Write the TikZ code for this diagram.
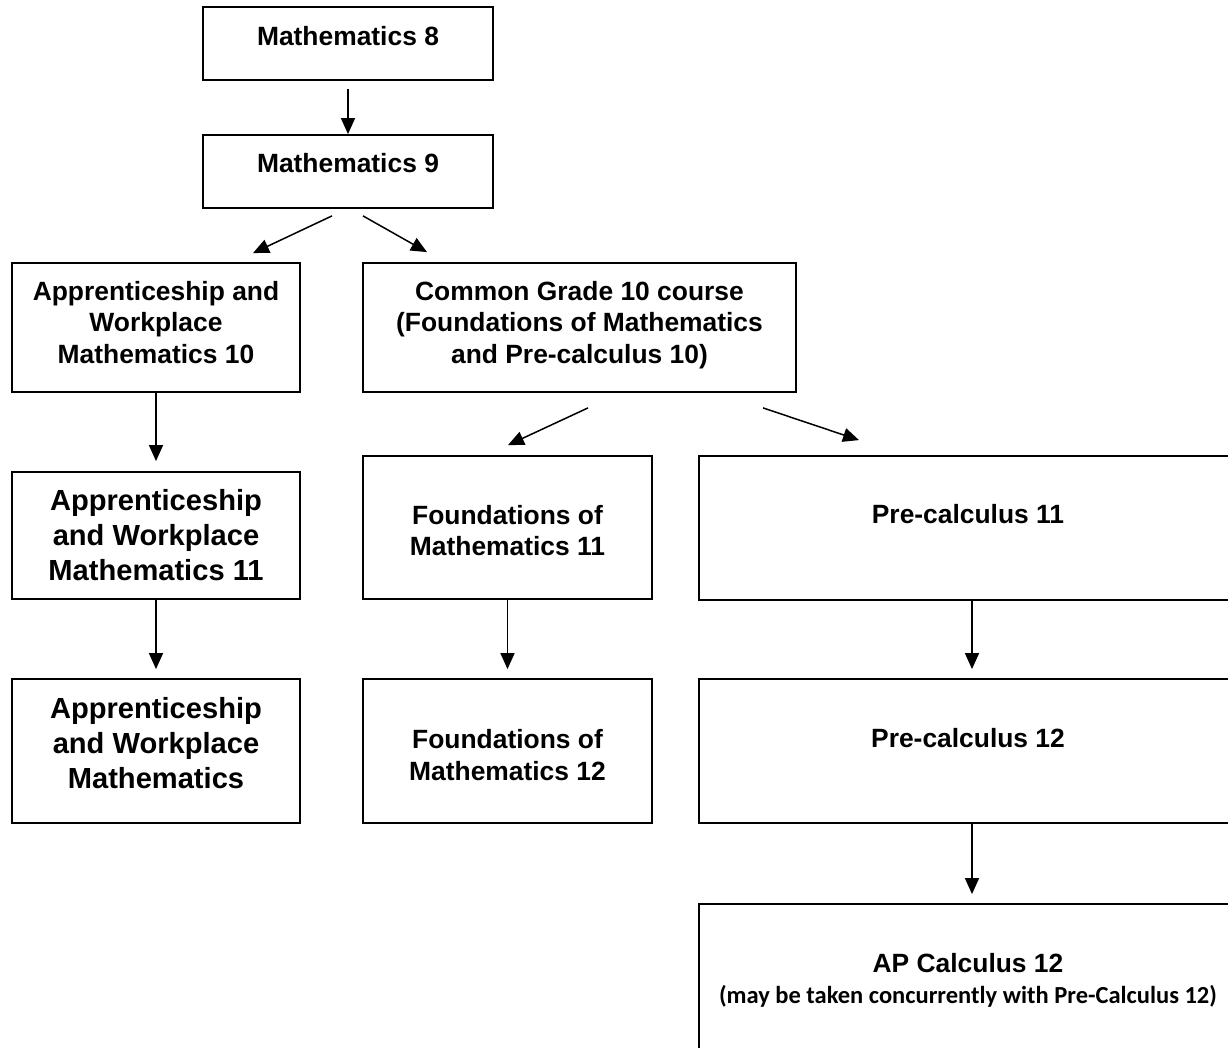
\documentclass[tikz,border=0pt]{standalone}
\usepackage{fontspec}
\setmainfont{Liberation Sans}
\newfontfamily\notefont{Carlito}
\usetikzlibrary{arrows.meta}
\tikzset{
  course/.style={
    draw, line width=1.8pt, inner sep=0pt, align=center,
    font=\bfseries\fontsize{26.4}{31.5}\selectfont,
    text height=0pt, text depth=0pt
  },
  bigcourse/.style={course, font=\bfseries\fontsize{29.1}{35}\selectfont},
  link/.style={-{Triangle[length=16pt,width=14pt]}, line width=1.5pt}
}

\begin{document}
\begin{tikzpicture}[x=1pt, y=-1pt]
    \useasboundingbox (0,0) rectangle (1228,1047);

    % Grade 8 and 9
    \node[course, minimum width=290, minimum height=73, text height=3pt] (m8) at (348,43.5) {Mathematics 8};
    \node[course, minimum width=290, minimum height=73, text height=1pt] (m9) at (348,171.5) {Mathematics 9};

    % Grade 10
    \node[course, minimum width=288, minimum height=129, text height=71pt] (aw10) at (156,327.5) {Apprenticeship and\\Workplace\\Mathematics 10};
    \node[course, minimum width=433, minimum height=129, text height=71pt] (common) at (579.5,327.5) {Common Grade 10 course\\(Foundations of Mathematics\\and Pre-calculus 10)};

    % Grade 11
    \node[bigcourse, minimum width=288, minimum height=127, text height=89pt] (aw11) at (156,535.5) {Apprenticeship\\and Workplace\\Mathematics 11};
    \node[course, minimum width=289, minimum height=143, text height=56pt] (f11) at (507.5,527.5) {Foundations of\\Mathematics 11};
    \node[course, minimum width=538, minimum height=144, text depth=10pt] (pc11) at (968,528) {Pre-calculus 11};

    % Grade 12
    \node[bigcourse, minimum width=288, minimum height=144, text height=74pt] (aw12) at (156,751) {Apprenticeship\\and Workplace\\Mathematics};
    \node[course, minimum width=289, minimum height=144, text height=58pt] (f12) at (507.5,751) {Foundations of\\Mathematics 12};
    \node[course, minimum width=538, minimum height=144, text depth=7pt] (pc12) at (968,751) {Pre-calculus 12};
    \node[course, minimum width=538, minimum height=158, text height=41pt] (ap) at (968,983) {AP Calculus 12\\{\notefont\bfseries\fontsize{24.5}{31}\selectfont (may be taken concurrently with Pre-Calculus 12)}};

    % Arrows
    \draw[link] ([yshift=-8pt]m8.south) -- (m9.north);
    \draw[link] ([xshift=-16pt,yshift=-7pt]m9.south) -- ([xshift=97pt,yshift=9pt]aw10.north);
    \draw[link] ([xshift=15pt,yshift=-7pt]m9.south) -- ([xshift=-152.5pt,yshift=10pt]common.north);
    \draw[link] ([xshift=8.5pt,yshift=-15pt]common.south) -- ([xshift=0.5pt,yshift=10pt]f11.north);
    \draw[link] ([xshift=183.5pt,yshift=-15pt]common.south) -- ([xshift=-109pt,yshift=15pt]pc11.north);
    \draw[link] (aw10.south) -- ([yshift=10pt]aw11.north);
    \draw[link] (aw11.south) -- ([yshift=9pt]aw12.north);
    \draw[link] (f11.south) -- ([yshift=9pt]f12.north);
    \draw[link] ([xshift=4pt]pc11.south) -- ([xshift=4pt,yshift=9pt]pc12.north);
    \draw[link] ([xshift=4pt]pc12.south) -- ([xshift=4pt,yshift=9pt]ap.north);
\end{tikzpicture}
\end{document}
